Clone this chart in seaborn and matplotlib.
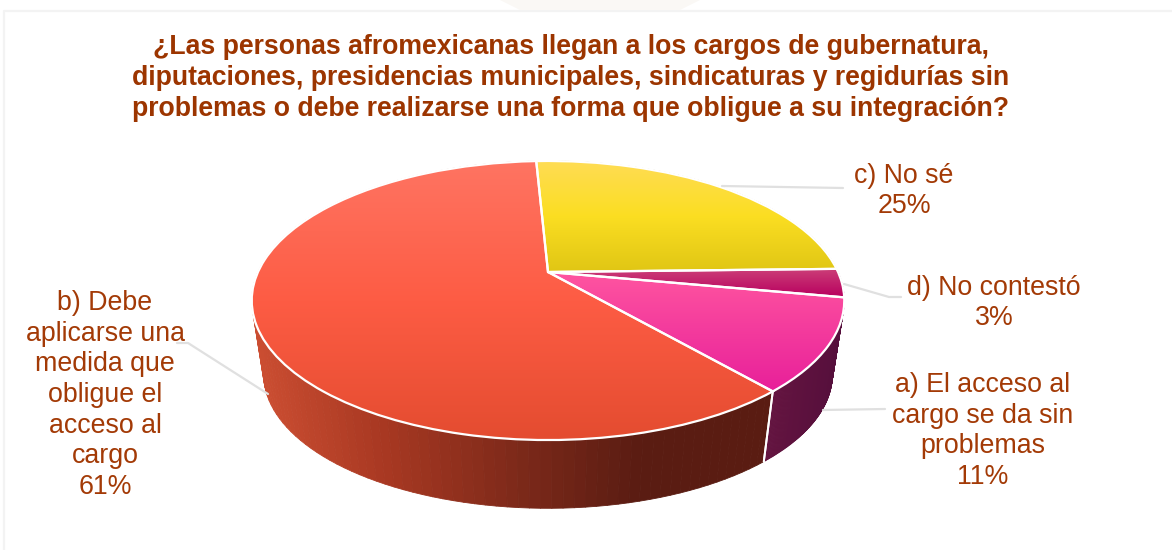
import numpy as np
import matplotlib
matplotlib.use("Agg")
import matplotlib.pyplot as plt
from matplotlib.collections import PolyCollection
from matplotlib.transforms import Transform
import seaborn as sns

title = ("¿Las personas afromexicanas llegan a los cargos de gubernatura,\n"
         "diputaciones, presidencias municipales, sindicaturas y regidurías sin\n"
         "problemas o debe realizarse una forma que obligue a su integración?")

# clockwise from the top of the pie
categories = ["c) No sé", "d) No contestó",
              "a) El acceso al\ncargo se da sin\nproblemas",
              "b) Debe\naplicarse una\nmedida que\nobligue el\nacceso al\ncargo"]
# slice sizes, they round to the printed 25, 3, 11 and 61
values = [25.4, 3.3, 10.7, 60.6]

top_colors = [["#ffdc55", "#fbde22", "#e0c614"],
              ["#cc4078", "#b8005f"],
              ["#ff55a0", "#e8209a"],
              ["#ff7462", "#fd5c44", "#e44c30"]]
wall_colors = [["#8a7a10", "#6a5c0c"],
               ["#700a40", "#5a0a38"],
               ["#641440", "#560f3c"],
               ["#cc4e32", "#a83822", "#7f2a1a", "#5a1c12", "#5a1c12"]]
text_color = "#a33a06"

sns.set_theme(style="white")
plt.rcParams["font.family"] = ["Liberation Sans", "DejaVu Sans"]


# pie is drawn on the unit circle, this puts it in perspective on the page
class Perspective(Transform):
    input_dims = output_dims = 2
    is_affine = False

    def __init__(self, cx=548, cy=272, a=290, b=133.7, k=0.2043):
        super().__init__()
        self.cx, self.cy, self.a, self.b, self.k = cx, cy, a, b, k

    def transform_non_affine(self, values):
        values = np.asarray(values)
        w = 1 + self.k * values[:, 1]
        return np.column_stack([self.cx + self.a * values[:, 0] / w,
                                self.cy - self.b * values[:, 1] / w])


top_face = Perspective()
bottom_face = Perspective(cy=347, a=290 * 0.96, b=133.7 * 0.96)

fig = plt.figure(figsize=(11.72, 5.5), dpi=100, facecolor="white")
ax = fig.add_axes([0, 0, 1, 1])

wedges, _ = ax.pie(values, startangle=92.8, counterclock=False, radius=1,
                   wedgeprops=dict(facecolor="none", edgecolor="white", linewidth=1.6))
ax.set_aspect("auto")
ax.set_axis_off()

# side wall, one small quad per step of the rim
for wedge, colors in zip(wedges, wall_colors):
    t = np.radians(np.linspace(wedge.theta1, wedge.theta2, 120))
    rim = np.column_stack([np.cos(t), np.sin(t)])
    upper = top_face.transform(rim)
    lower = bottom_face.transform(rim)
    quads = [[upper[i], upper[i + 1], lower[i + 1], lower[i]] for i in range(len(t) - 1)]
    xs = np.mean(np.array(quads)[:, :, 0], axis=1)
    cmap = sns.blend_palette(colors, as_cmap=True)
    shades = cmap((xs - xs.min()) / max(xs.max() - xs.min(), 1))
    ax.add_collection(PolyCollection(quads, facecolors=shades, edgecolors=shades,
                                     linewidths=0.6, zorder=1))

# white seams on the front of the wall
for wedge in wedges:
    for angle in (wedge.theta1, wedge.theta2):
        rad = np.radians(angle)
        if np.sin(rad) < -0.3:
            rim = np.array([[np.cos(rad), np.sin(rad)]])
            seam = np.vstack([top_face.transform(rim), bottom_face.transform(rim)])
            ax.plot(seam[:, 0], seam[:, 1], color="white", lw=1.4, zorder=2)

# top surface: vertical gradient clipped to each wedge
for wedge, colors in zip(wedges, top_colors):
    wedge.set_transform(top_face + ax.transData)
    wedge.set_zorder(4)
    box = top_face.transform_path(wedge.get_path()).get_extents()
    cmap = sns.blend_palette(colors, as_cmap=True)
    im = ax.imshow(np.linspace(0, 1, 256).reshape(-1, 1), cmap=cmap, aspect="auto",
                   extent=(box.x0, box.x1, box.y1, box.y0), origin="upper", zorder=3)
    im.set_clip_path(wedge)

ax.set_xlim(0, 1172)
ax.set_ylim(550, 0)

# card border and the faint shape behind it
ax.plot([4, 4, 1172], [550, 11, 11], color="#f3f3f3", lw=1.6, zorder=0)
ax.fill([500, 700, 680, 520], [0, 0, 10, 10], color="#faf8f5", lw=0, zorder=0)

# leader lines
leader = dict(color="#e0e0e0", lw=1.6, zorder=5)
ax.plot([722, 843], [186, 188], **leader)
ax.plot([844, 889, 901], [284, 297, 297], **leader)
ax.plot([823, 885], [410, 409], **leader)
ax.plot([177, 188, 268], [343, 343, 394], **leader)

ax.text(571, 78, title, color="#9c3500", fontsize=19.2, fontweight="bold",
        ha="center", va="center", linespacing=1.24)

label_pos = [(904, 191), (994, 303), (983, 431), (105, 395)]
for cat, val, (x, y) in zip(categories, values, label_pos):
    ax.text(x, y, f"{cat}\n{val:.0f}%", color=text_color, fontsize=19.3,
            ha="center", va="center", linespacing=1.23)

fig.savefig("out.png", dpi=100)
